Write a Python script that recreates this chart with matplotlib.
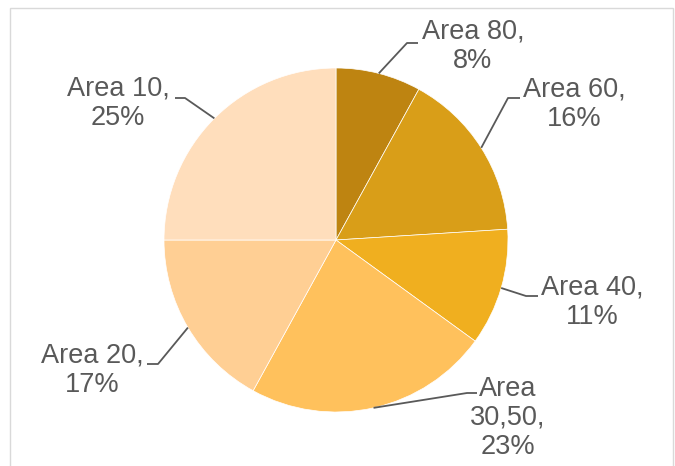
import numpy as np
import matplotlib.pyplot as plt
from matplotlib.patches import Rectangle

plt.rcParams['font.family'] = ['Liberation Sans', 'DejaVu Sans']

# share of each area, clockwise from 12 o'clock
areas = ['Area 80', 'Area 60', 'Area 40', 'Area 30,50', 'Area 20', 'Area 10']
shares = [8, 16, 11, 23, 17, 25]
label_text = ['Area 80,\n8%', 'Area 60,\n16%', 'Area 40,\n11%',
              'Area\n30,50,\n23%', 'Area 20,\n17%', 'Area 10,\n25%']
colors = ['#BE8411', '#D99E18', '#F0AF1F', '#FFC15C', '#FFCF94', '#FFDEBC']

# label placement in pixels: text centre, elbow of leader, end of leader next to text
W, H = 675, 466
cx, cy, R = 336, 240, 172
text_px = [(473, 46), (574, 104), (592, 302), (508, 418), (92, 370), (118, 103)]
elbow_px = [(407, 43), (508, 98), (526, 296), (467, 393), (158, 364), (185, 98)]
tail_px = [(418, 43), (520, 98), (538, 296), (477, 393), (147, 364), (175, 98)]


def to_data(p):
    return ((p[0] - cx) / R, (cy - p[1]) / R)


fig = plt.figure(figsize=(W / 100, H / 100), dpi=100)

# light frame round the chart area
fig.patches.append(Rectangle((10 / W, -0.1), 663 / W, (H - 8) / H + 0.1,
                             transform=fig.transFigure, fill=False,
                             edgecolor='#D9D9D9', linewidth=1.0))

ax = fig.add_axes([(cx - R) / W, (H - cy - R) / H, 2 * R / W, 2 * R / H])
wedges, _ = ax.pie(shares, colors=colors, startangle=90, counterclock=False,
                   radius=1, wedgeprops=dict(edgecolor='white', linewidth=0.5))
ax.set_xlim(-1, 1)
ax.set_ylim(-1, 1)
ax.set_aspect('equal')
ax.axis('off')

for w, txt, tp, ep, lp in zip(wedges, label_text, text_px, elbow_px, tail_px):
    mid = np.deg2rad((w.theta1 + w.theta2) / 2)
    anchor = (np.cos(mid), np.sin(mid))
    e = to_data(ep)
    t = to_data(lp)
    ax.plot([anchor[0], e[0], t[0]], [anchor[1], e[1], t[1]],
            color='#595959', linewidth=1.3, clip_on=False, solid_capstyle='butt')
    x, y = to_data(tp)
    ax.text(x, y, txt, ha='center', va='center', ma='center', fontsize=19.5,
            color='#595959', linespacing=1.17, clip_on=False)

fig.savefig('out.png', dpi=100)
